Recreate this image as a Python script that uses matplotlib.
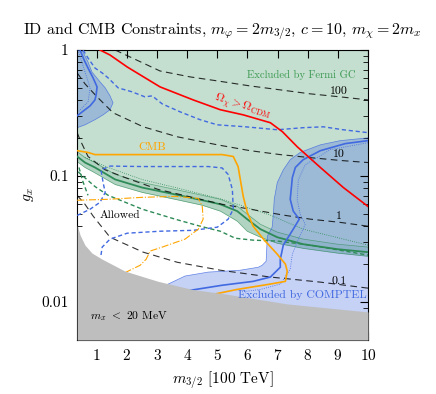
import numpy as np
import matplotlib
matplotlib.use("Agg")
import matplotlib.pyplot as plt
from matplotlib.ticker import FixedLocator, FixedFormatter, LogLocator, NullFormatter

plt.rcParams['font.family'] = 'serif'
plt.rcParams['font.serif'] = ['cmr10', 'DejaVu Serif']
plt.rcParams['mathtext.fontset'] = 'cm'
plt.rcParams['axes.formatter.use_mathtext'] = True

# ------------------ data ------------------
# Fermi GC band (central line, band edges)
fermi_x = [0.35, 0.61, 0.94, 1.61, 2.51, 3.60, 4.50, 5.10, 5.66, 5.99, 6.43, 6.99, 7.85, 8.98, 10]
fermi_mid = [0.143, 0.128, 0.117, 0.094, 0.081, 0.0715, 0.0643, 0.0597, 0.0527, 0.0455, 0.0379, 0.0327, 0.0288, 0.0263, 0.0249]
fermi_hi = [0.156, 0.140, 0.128, 0.103, 0.0889, 0.0783, 0.0703, 0.0654, 0.0577, 0.0499, 0.0414, 0.0359, 0.0316, 0.0288, 0.0273]
fermi_lo = [0.130, 0.117, 0.106, 0.0857, 0.0742, 0.0654, 0.0587, 0.0527, 0.0439, 0.0365, 0.0327, 0.0293, 0.0267, 0.0245, 0.0231]

fermi_dot_x = [0.61, 1.38, 2.51, 3.60, 5.16, 6.76, 7.85, 10]
fermi_dot_y = [0.140, 0.117, 0.0938, 0.0812, 0.0654, 0.049, 0.0379, 0.0283]

fermi_dash_x = [0.38, 0.94, 1.38, 2.51, 3.60, 4.43, 5.10, 5.60, 6.19, 6.99, 8.09, 10]
fermi_dash_y = [0.108, 0.0826, 0.0703, 0.0546, 0.0455, 0.0400, 0.0365, 0.0321, 0.031, 0.0305, 0.0283, 0.0236]
fermi_dash2_x = [0.41, 0.54, 0.71]
fermi_dash2_y = [0.117, 0.0905, 0.0703]

# black dashed contours
c100_x = [1.61, 2.11, 3.10, 4.10, 5.00, 6.09, 7.09, 8.09, 9.08, 10]
c100_y = [1, 0.880, 0.682, 0.612, 0.569, 0.519, 0.483, 0.449, 0.425, 0.402]
c10_x = [0.35, 0.61, 1.01, 1.54, 2.54, 3.67, 5.00, 6.09, 7.09, 8.09, 9.08, 10]
c10_y = [0.658, 0.539, 0.425, 0.318, 0.246, 0.205, 0.177, 0.159, 0.148, 0.140, 0.133, 0.128]
c1_x = [0.35, 0.445, 0.71, 1.28, 1.94, 3.04, 4.17, 5.16, 6.09, 7.19, 8.09, 9.08, 10]
c1_y = [0.221, 0.194, 0.143, 0.112, 0.0973, 0.0783, 0.0678, 0.0597, 0.0546, 0.049, 0.0455, 0.0429, 0.0400]
c01_x = [0.35, 0.61, 0.88, 1.44, 2.54, 3.67, 5.10, 6.76, 8.42, 10]
c01_y = [0.0703, 0.0597, 0.0481, 0.0327, 0.0249, 0.0207, 0.0179, 0.0158, 0.0144, 0.0129]
contour_labels = ['100', '10', '1', '0.1']
contour_label_y = [0.474, 0.148, 0.0481, 0.0146]

# relic density
relic_x = [1.11, 1.44, 2.01, 3.10, 4.20, 5.10, 5.86, 6.76, 7.16, 7.65, 8.42, 9.18, 10]
relic_y = [1, 0.913, 0.734, 0.510, 0.402, 0.336, 0.306, 0.265, 0.225, 0.171, 0.117, 0.0812, 0.0574]

# COMPTEL
comp_dash1_x = [0.545, 0.71, 0.94, 1.18, 1.38, 1.71, 2.17, 2.60, 2.84, 3.17, 3.77, 4.43, 5.00, 5.93, 6.99, 7.85, 8.52, 9.18, 10]
comp_dash1_y = [1, 0.864, 0.720, 0.658, 0.600, 0.501, 0.466, 0.425, 0.433, 0.374, 0.323, 0.280, 0.255, 0.246, 0.233, 0.242, 0.246, 0.233, 0.221]
comp_dash2_x = [0.35, 0.78, 1.11, 1.28, 1.21, 1.14, 1.44, 2.51, 3.60, 4.70, 5.16, 5.36, 5.50, 5.53, 5.36, 5.00, 4.20, 3.10, 2.01, 1.44, 1.18, 1.14]
comp_dash2_y = [0.0487, 0.0546, 0.062, 0.0742, 0.0889, 0.112, 0.120, 0.119, 0.119, 0.119, 0.116, 0.103, 0.0783, 0.0546, 0.0455, 0.0393, 0.0371, 0.0365, 0.0352, 0.0316, 0.0273, 0.0236]

tl_blob_x = [0.35, 0.51, 0.71, 0.84, 1.11, 1.28, 1.44, 1.54, 1.44, 1.21, 0.94, 0.61, 0.35]
tl_blob_y = [1, 1, 0.804, 0.670, 0.558, 0.501, 0.433, 0.381, 0.336, 0.306, 0.280, 0.255, 0.242]
tl_line_x = [0.445, 0.58, 0.71, 0.88, 1.01, 0.98, 0.94, 0.78, 0.61, 0.35]
tl_line_y = [1, 0.834, 0.720, 0.600, 0.510, 0.441, 0.402, 0.361, 0.336, 0.301]
tl_dot_x = [0.38, 0.61, 0.78, 0.71, 0.38]
tl_dot_y = [1, 0.670, 0.501, 0.388, 0.323]

comp_reg_x = [10, 9.08, 8.42, 7.75, 7.42, 7.19, 6.99, 6.89, 6.86, 6.82, 6.66, 6.62, 6.49, 6.36, 5.76, 5.26, 4.70, 3.93, 3.37, 2.77, 2.77, 10]
comp_reg_y = [0.201, 0.191, 0.177, 0.154, 0.135, 0.112, 0.0889, 0.0654, 0.0499, 0.0393, 0.0333, 0.0211, 0.0196, 0.0189, 0.0179, 0.0176, 0.0173, 0.0161, 0.0139, 0.0120, 0.005, 0.005]
comp_line_x = [10, 9.25, 8.42, 7.85, 7.59, 7.49, 7.42, 7.52, 7.72, 7.52, 7.19, 7.09, 7.09, 6.76, 6.19, 5.16, 4.10]
comp_line_y = [0.191, 0.181, 0.159, 0.135, 0.117, 0.0973, 0.0654, 0.0527, 0.0455, 0.0379, 0.0283, 0.0219, 0.0189, 0.0158, 0.0146, 0.0136, 0.0124]
comp_dot_x = [10, 8.75, 7.92, 7.69, 7.65, 7.75, 7.92, 7.69, 7.49, 7.42, 7.09, 6.43, 5.76]
comp_dot_y = [0.184, 0.162, 0.123, 0.0938, 0.0654, 0.0499, 0.0414, 0.0316, 0.0240, 0.0182, 0.0139, 0.0126, 0.0120]

# CMB
cmb_x = [0.35, 0.71, 0.94, 2.77, 5.16, 5.53, 5.69, 5.86, 5.99, 6.19, 6.53, 6.99, 7.26, 7.32, 7.26, 6.76, 5.66, 4.93, 4.27]
cmb_y = [0.159, 0.154, 0.148, 0.148, 0.148, 0.143, 0.119, 0.069, 0.0518, 0.0400, 0.0316, 0.0240, 0.020, 0.0176, 0.0146, 0.0139, 0.0126, 0.0116, 0.0110]
cmb2_x = [0.35, 1.38, 2.51, 3.60, 4.37, 4.50, 4.53, 4.37, 3.93, 3.17, 2.77, 2.64, 2.44, 2.04, 1.71]
cmb2_y = [0.0643, 0.0654, 0.0678, 0.069, 0.0666, 0.0577, 0.0455, 0.0379, 0.0316, 0.0273, 0.0254, 0.0219, 0.0196, 0.0176, 0.0161]

# m_x < 20 MeV
mx_x = [0.35, 0.45, 0.61, 0.84, 1.18, 1.94, 3.04, 4.17, 5.26, 7.32, 10]
mx_y = [0.0407, 0.0339, 0.0283, 0.0245, 0.0219, 0.0176, 0.0146, 0.0126, 0.0116, 0.00967, 0.00835]

# ------------------------- Plot ----------------------
green = '#2e8b57'
blue = 'royalblue'

fig = plt.figure(figsize=(4.36, 3.94), dpi=100)
ax = fig.add_axes([0.177, 0.137, 0.667, 0.736])

# filled regions
ax.fill_between(fermi_x, fermi_lo, 1, color=green, alpha=0.28, lw=0, zorder=1)
ax.fill_between(fermi_x, fermi_lo, fermi_hi, color=green, alpha=0.12, lw=0, zorder=1)
ax.plot(fermi_x, fermi_hi, color=green, lw=0.5, alpha=0.7, zorder=2)
ax.plot(fermi_x, fermi_lo, color=green, lw=0.5, alpha=0.7, zorder=2)
ax.fill(comp_reg_x, comp_reg_y, color=blue, alpha=0.3, lw=0, zorder=1.5)
ax.plot(comp_reg_x[:-2], comp_reg_y[:-2], color=blue, lw=0.5, alpha=0.8, zorder=2)
ax.fill(tl_blob_x, tl_blob_y, color=blue, alpha=0.3, lw=0, zorder=1.5)
ax.plot(tl_blob_x, tl_blob_y, color=blue, lw=0.5, alpha=0.8, zorder=2)

# Fermi lines
ax.plot(fermi_x, fermi_mid, color=green, lw=1.3, zorder=3)
ax.plot(fermi_dot_x, fermi_dot_y, color=green, lw=0.6, ls=':', zorder=3)
ax.plot(fermi_dash_x, fermi_dash_y, color=green, lw=1.0, ls=(0, (3, 2)), zorder=3)
ax.plot(fermi_dash2_x, fermi_dash2_y, color=green, lw=1.0, ls=(0, (3, 2)), zorder=3)

# black dashed contours
for cx, cy in [(c100_x, c100_y), (c10_x, c10_y), (c1_x, c1_y), (c01_x, c01_y)]:
  ax.plot(cx, cy, color='black', lw=0.8, ls=(0, (6, 4)), alpha=0.8, zorder=3)
for lab, ly in zip(contour_labels, contour_label_y):
  ax.text(9.05, ly, lab, fontsize=8.5, ha='center', va='center', zorder=6)

# relic density
ax.plot(relic_x, relic_y, color='red', lw=1.2, zorder=4)

# COMPTEL lines
ax.plot(comp_dash1_x, comp_dash1_y, color=blue, lw=1.0, ls=(0, (3, 2)), zorder=3)
ax.plot(comp_dash2_x, comp_dash2_y, color=blue, lw=1.0, ls=(0, (3, 2)), zorder=3)
ax.plot(tl_line_x, tl_line_y, color=blue, lw=1.2, zorder=3)
ax.plot(tl_dot_x, tl_dot_y, color=blue, lw=0.6, ls=':', zorder=3)
ax.plot(comp_line_x, comp_line_y, color=blue, lw=1.2, zorder=3)
ax.plot(comp_dot_x, comp_dot_y, color=blue, lw=0.6, ls=':', zorder=3)

# CMB
ax.plot(cmb_x, cmb_y, color='orange', lw=1.2, zorder=4)
ax.plot(cmb2_x, cmb2_y, color='orange', lw=0.8, ls='-.', zorder=4)

# m_x < 20 MeV
ax.fill_between(mx_x, 0.005, mx_y, color='#bebebe', lw=0, zorder=5)

# labels
ax.text(7.8, 0.634, 'Excluded by Fermi GC', color='#3c9a50', fontsize=7.7, ha='center', va='center', zorder=6)
ax.text(5.83, 0.354, r'$\Omega_\chi > \Omega_{\rm CDM}$', color='red', fontsize=8.5,
        ha='center', va='center', rotation=-17, zorder=6)
ax.text(2.84, 0.168, 'CMB', color='orange', fontsize=8.5, ha='center', va='center', zorder=6)
ax.text(1.77, 0.049, 'Allowed', fontsize=8.3, ha='center', va='center', zorder=6)
ax.text(7.82, 0.0114, 'Excluded by COMPTEL', color=blue, fontsize=8.5, ha='center', va='center', zorder=6)
ax.text(0.78, 0.0077, r'$m_x$ $<$ 20 MeV', fontsize=8.3, ha='left', va='center', zorder=6)

ax.set_xscale('linear')
ax.set_yscale('log')
ax.set_xlim(0.35, 10)
ax.set_ylim(0.005, 1)

ax.xaxis.set_major_locator(FixedLocator(range(1, 11)))
ax.yaxis.set_major_locator(FixedLocator([0.01, 0.1, 1]))
ax.yaxis.set_major_formatter(FixedFormatter(['0.01', '0.1', '1']))
ax.yaxis.set_minor_locator(LogLocator(base=10, subs=np.arange(2, 10)))
ax.yaxis.set_minor_formatter(NullFormatter())
ax.tick_params(which='both', direction='in', top=True, right=True, labelsize=11)
ax.tick_params(which='major', length=6, width=0.8, pad=6)
ax.tick_params(which='minor', length=3.5, width=0.6)

ax.set_xlabel(r'$m_{3/2}$ [100 TeV]', fontsize=11)
ax.set_ylabel(r'$g_x$', fontsize=11)
ax.set_title(r'ID and CMB Constraints, $m_\varphi = 2m_{3/2}$, $c = 10$, $m_\chi = 2m_x$', fontsize=11.5, pad=11)

fig.savefig('out.png', dpi=100)
